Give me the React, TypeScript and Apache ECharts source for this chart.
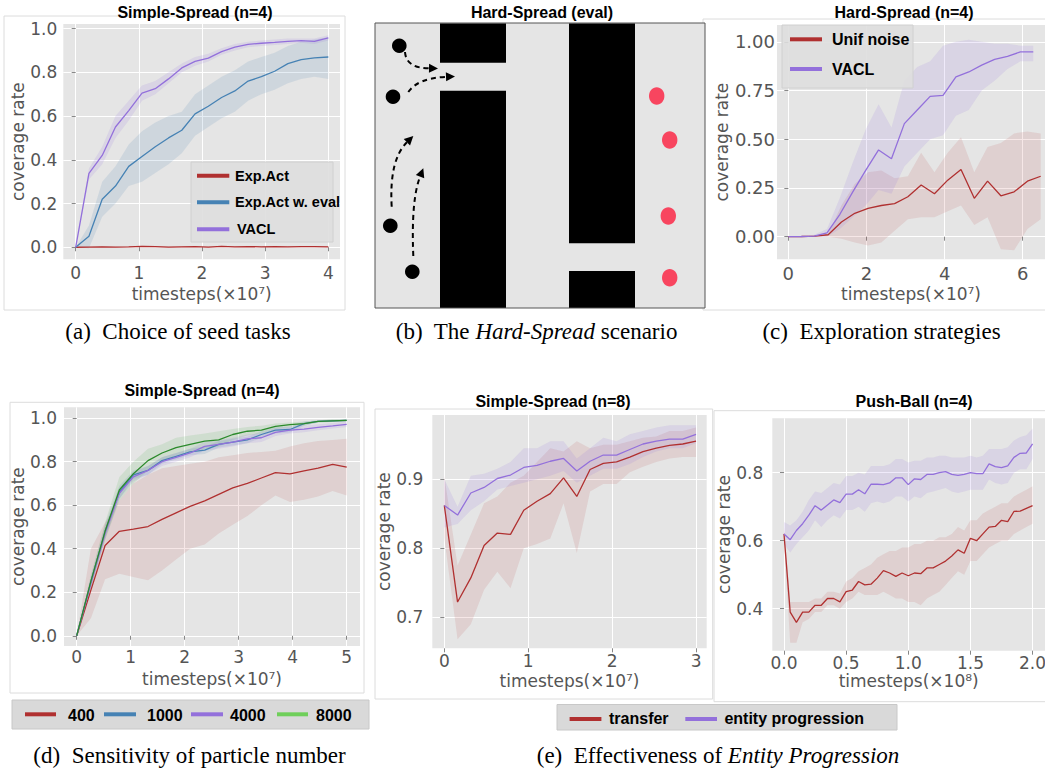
import React, { useEffect, useRef } from "react";
import * as echarts from "echarts";

// ---------------- (a) Simple-Spread (n=4): choice of seed tasks ----------------
const aX = [0, 0.21, 0.42, 0.63, 0.84, 1.05, 1.26, 1.47, 1.68, 1.89, 2.1, 2.31, 2.52, 2.73, 2.94, 3.15, 3.36, 3.57, 3.78, 4.0];
const aExpAct = [0, 0.001, 0.002, 0.001, 0.002, 0.004, 0.003, 0.001, 0.002, 0.003, 0.001, 0.004, 0.002, 0.003, 0.002, 0.003, 0.002, 0.003, 0.003, 0.002];
const aExpActLo = [0, -0.002, -0.001, -0.002, -0.001, 0.001, 0, -0.002, -0.001, 0, -0.002, 0.001, -0.001, 0, -0.001, 0, -0.001, 0, 0, -0.001];
const aExpActHi = [0, 0.004, 0.005, 0.004, 0.005, 0.007, 0.006, 0.004, 0.005, 0.006, 0.004, 0.007, 0.005, 0.006, 0.005, 0.006, 0.005, 0.006, 0.006, 0.005];
const aEval = [0, 0.05, 0.22, 0.28, 0.37, 0.415, 0.46, 0.5, 0.535, 0.61, 0.645, 0.685, 0.715, 0.76, 0.78, 0.805, 0.84, 0.858, 0.866, 0.87];
const aEvalLo = [0, -0.005, 0.14, 0.2, 0.28, 0.3, 0.34, 0.38, 0.43, 0.51, 0.55, 0.59, 0.62, 0.67, 0.7, 0.72, 0.75, 0.77, 0.78, 0.77];
const aEvalHi = [0, 0.1, 0.3, 0.37, 0.47, 0.53, 0.57, 0.6, 0.62, 0.7, 0.74, 0.78, 0.81, 0.85, 0.87, 0.89, 0.92, 0.94, 0.95, 0.96];
const aVacl = [0, 0.338, 0.42, 0.55, 0.625, 0.705, 0.725, 0.77, 0.82, 0.85, 0.865, 0.895, 0.915, 0.928, 0.933, 0.937, 0.942, 0.945, 0.942, 0.958];
const aVaclLo = [0, 0.31, 0.38, 0.5, 0.58, 0.67, 0.7, 0.75, 0.8, 0.83, 0.85, 0.88, 0.9, 0.915, 0.92, 0.925, 0.93, 0.935, 0.93, 0.945];
const aVaclHi = [0, 0.36, 0.46, 0.6, 0.67, 0.74, 0.76, 0.8, 0.84, 0.87, 0.885, 0.91, 0.93, 0.94, 0.945, 0.95, 0.955, 0.955, 0.955, 0.97];
const aXTicks = [0, 1, 2, 3, 4];
const aYTicks = [0, 0.2, 0.4, 0.6, 0.8, 1.0];

// ---------------- (c) Hard-Spread (n=4): exploration strategies ----------------
const cXVacl = [0, 0.33, 0.66, 0.99, 1.32, 1.65, 1.98, 2.31, 2.64, 2.97, 3.3, 3.63, 3.96, 4.29, 4.62, 4.95, 5.28, 5.61, 5.94, 6.27];
const cVacl = [0, 0.001, 0.003, 0.02, 0.115, 0.23, 0.34, 0.445, 0.4, 0.58, 0.65, 0.72, 0.725, 0.82, 0.845, 0.88, 0.91, 0.925, 0.948, 0.948];
const cVaclLo = [0, 0, 0, 0, 0.04, 0.1, 0.16, 0.24, 0.22, 0.36, 0.43, 0.5, 0.52, 0.62, 0.65, 0.75, 0.8, 0.86, 0.9, 0.9];
const cVaclHi = [0, 0.002, 0.01, 0.04, 0.2, 0.38, 0.55, 0.68, 0.56, 0.8, 0.87, 0.9, 0.98, 1.0, 1.01, 1.0, 0.99, 0.99, 0.98, 0.98];
const cXUnif = [0, 0.34, 0.68, 1.02, 1.36, 1.7, 2.04, 2.38, 2.72, 3.06, 3.4, 3.74, 4.08, 4.42, 4.76, 5.1, 5.44, 5.78, 6.12, 6.46];
const cUnif = [0, 0.001, 0.003, 0.01, 0.075, 0.12, 0.145, 0.16, 0.17, 0.205, 0.265, 0.22, 0.29, 0.345, 0.197, 0.285, 0.21, 0.23, 0.285, 0.31];
const cUnifLo = [0, 0, 0, 0, -0.01, -0.03, -0.045, -0.03, 0.03, 0.09, 0.1, 0.1, 0.13, 0.16, 0.06, 0.1, -0.065, -0.07, 0.04, 0.09];
const cUnifHi = [0, 0.002, 0.005, 0.015, 0.16, 0.27, 0.33, 0.34, 0.3, 0.31, 0.43, 0.33, 0.43, 0.51, 0.33, 0.46, 0.48, 0.53, 0.54, 0.53];
const cXTicks = [0, 2, 4, 6];
const cYTicks = [0, 0.25, 0.5, 0.75, 1.0];

// ---------------- (d) Simple-Spread (n=4): particle number ----------------
const dX = [0, 0.263, 0.526, 0.79, 1.05, 1.32, 1.58, 1.84, 2.1, 2.37, 2.63, 2.89, 3.16, 3.42, 3.68, 3.95, 4.21, 4.47, 4.74, 5.0];
const d400 = [0, 0.21, 0.415, 0.48, 0.49, 0.502, 0.535, 0.565, 0.595, 0.62, 0.65, 0.68, 0.7, 0.725, 0.75, 0.744, 0.758, 0.77, 0.788, 0.775];
const d400Lo = [0, 0.08, 0.26, 0.285, 0.27, 0.255, 0.3, 0.35, 0.4, 0.42, 0.47, 0.51, 0.55, 0.6, 0.645, 0.615, 0.625, 0.64, 0.665, 0.645];
const d400Hi = [0, 0.4, 0.52, 0.62, 0.7, 0.74, 0.77, 0.78, 0.79, 0.8, 0.82, 0.83, 0.84, 0.845, 0.85, 0.87, 0.885, 0.895, 0.9, 0.905];
const d1000 = [0, 0.25, 0.48, 0.66, 0.74, 0.76, 0.805, 0.825, 0.845, 0.853, 0.88, 0.89, 0.9, 0.925, 0.945, 0.948, 0.975, 0.985, 0.988, 0.99];
const d1000Lo = [0, 0.23, 0.45, 0.63, 0.72, 0.74, 0.79, 0.81, 0.83, 0.835, 0.865, 0.875, 0.885, 0.91, 0.93, 0.934, 0.965, 0.98, 0.983, 0.985];
const d1000Hi = [0, 0.27, 0.51, 0.69, 0.76, 0.78, 0.82, 0.84, 0.86, 0.87, 0.895, 0.905, 0.915, 0.94, 0.96, 0.962, 0.985, 0.99, 0.993, 0.995];
const d4000 = [0, 0.24, 0.47, 0.655, 0.73, 0.76, 0.8, 0.82, 0.84, 0.87, 0.88, 0.89, 0.905, 0.91, 0.935, 0.945, 0.95, 0.958, 0.965, 0.972];
const d4000Lo = [0, 0.22, 0.44, 0.63, 0.71, 0.74, 0.78, 0.8, 0.82, 0.85, 0.86, 0.87, 0.885, 0.89, 0.918, 0.93, 0.935, 0.944, 0.952, 0.959];
const d4000Hi = [0, 0.26, 0.5, 0.68, 0.75, 0.78, 0.82, 0.84, 0.86, 0.89, 0.9, 0.91, 0.925, 0.93, 0.952, 0.96, 0.965, 0.972, 0.978, 0.985];
const d8000 = [0, 0.25, 0.48, 0.67, 0.745, 0.805, 0.84, 0.865, 0.88, 0.895, 0.9, 0.925, 0.94, 0.945, 0.962, 0.97, 0.975, 0.985, 0.988, 0.99];
const d8000Lo = [0, 0.22, 0.44, 0.62, 0.7, 0.76, 0.8, 0.83, 0.845, 0.86, 0.87, 0.9, 0.92, 0.93, 0.95, 0.96, 0.965, 0.98, 0.982, 0.985];
const d8000Hi = [0, 0.28, 0.52, 0.73, 0.8, 0.86, 0.88, 0.91, 0.92, 0.93, 0.94, 0.95, 0.96, 0.965, 0.975, 0.98, 0.985, 0.99, 0.995, 0.995];
const dXTicks = [0, 1, 2, 3, 4, 5];
const dYTicks = [0, 0.2, 0.4, 0.6, 0.8, 1.0];

// ---------------- (e) left: Simple-Spread (n=8) ----------------
const eX = [0, 0.158, 0.316, 0.474, 0.632, 0.789, 0.947, 1.105, 1.263, 1.421, 1.579, 1.737, 1.895, 2.053, 2.211, 2.368, 2.526, 2.684, 2.842, 3.0];
const eTransfer = [0.862, 0.722, 0.757, 0.804, 0.822, 0.82, 0.855, 0.868, 0.879, 0.902, 0.875, 0.914, 0.923, 0.925, 0.932, 0.94, 0.945, 0.949, 0.951, 0.955];
const eTransferLo = [0.815, 0.668, 0.69, 0.74, 0.766, 0.742, 0.8, 0.806, 0.814, 0.865, 0.793, 0.882, 0.893, 0.893, 0.91, 0.918, 0.925, 0.93, 0.932, 0.932];
const eTransferHi = [0.905, 0.775, 0.82, 0.865, 0.875, 0.895, 0.905, 0.925, 0.945, 0.94, 0.955, 0.945, 0.95, 0.95, 0.955, 0.96, 0.962, 0.97, 0.97, 0.975];
const eEntity = [0.862, 0.848, 0.88, 0.888, 0.901, 0.906, 0.917, 0.92, 0.926, 0.93, 0.912, 0.926, 0.935, 0.935, 0.943, 0.951, 0.955, 0.958, 0.958, 0.965];
const eEntityLo = [0.83, 0.835, 0.855, 0.868, 0.885, 0.89, 0.895, 0.9, 0.905, 0.912, 0.895, 0.905, 0.915, 0.915, 0.922, 0.932, 0.94, 0.945, 0.945, 0.952];
const eEntityHi = [0.9, 0.86, 0.905, 0.908, 0.915, 0.925, 0.945, 0.945, 0.955, 0.955, 0.93, 0.945, 0.96, 0.955, 0.965, 0.97, 0.975, 0.978, 0.978, 0.978];
const eXTicks = [0, 1, 2, 3];
const eYTicks = [0.7, 0.8, 0.9];

// ---------------- (e) right: Push-Ball (n=4) ----------------
const pX = [0, 0.05, 0.1, 0.15, 0.2, 0.25, 0.3, 0.35, 0.4, 0.45, 0.5, 0.55, 0.6, 0.65, 0.7, 0.75, 0.8, 0.85, 0.9, 0.95, 1.0, 1.05, 1.1, 1.15, 1.2, 1.25, 1.3, 1.35, 1.4, 1.45, 1.5, 1.55, 1.6, 1.65, 1.7, 1.75, 1.8, 1.85, 1.9, 1.95, 2.0];
const pTransfer = [0.62, 0.39, 0.36, 0.39, 0.39, 0.41, 0.41, 0.43, 0.43, 0.42, 0.45, 0.455, 0.48, 0.47, 0.472, 0.49, 0.512, 0.505, 0.495, 0.505, 0.497, 0.505, 0.503, 0.52, 0.52, 0.53, 0.54, 0.555, 0.573, 0.563, 0.607, 0.6, 0.62, 0.64, 0.642, 0.66, 0.656, 0.686, 0.687, 0.695, 0.703];
const pTransferLo = [0.6, 0.3, 0.3, 0.36, 0.37, 0.39, 0.39, 0.41, 0.41, 0.4, 0.42, 0.43, 0.45, 0.44, 0.44, 0.44, 0.45, 0.44, 0.43, 0.43, 0.42, 0.42, 0.41, 0.43, 0.44, 0.45, 0.47, 0.49, 0.51, 0.5, 0.54, 0.54, 0.56, 0.58, 0.59, 0.6, 0.6, 0.62, 0.63, 0.64, 0.65];
const pTransferHi = [0.64, 0.42, 0.42, 0.42, 0.42, 0.43, 0.43, 0.45, 0.45, 0.445, 0.48, 0.49, 0.51, 0.52, 0.53, 0.55, 0.56, 0.57, 0.57, 0.58, 0.58, 0.59, 0.59, 0.6, 0.6, 0.61, 0.61, 0.62, 0.64, 0.63, 0.66, 0.66, 0.68, 0.69, 0.7, 0.71, 0.71, 0.73, 0.74, 0.75, 0.76];
const pEntity = [0.62, 0.603, 0.63, 0.65, 0.675, 0.703, 0.69, 0.705, 0.72, 0.712, 0.737, 0.737, 0.75, 0.738, 0.766, 0.766, 0.765, 0.77, 0.785, 0.785, 0.765, 0.782, 0.78, 0.795, 0.795, 0.8, 0.803, 0.795, 0.792, 0.795, 0.8, 0.797, 0.797, 0.826, 0.818, 0.815, 0.82, 0.845, 0.857, 0.858, 0.885];
const pEntityLo = [0.59, 0.565, 0.59, 0.61, 0.63, 0.66, 0.64, 0.66, 0.675, 0.665, 0.69, 0.69, 0.7, 0.685, 0.71, 0.715, 0.71, 0.715, 0.73, 0.73, 0.715, 0.73, 0.725, 0.74, 0.745, 0.75, 0.755, 0.745, 0.74, 0.745, 0.75, 0.75, 0.75, 0.78, 0.77, 0.765, 0.77, 0.8, 0.81, 0.81, 0.84];
const pEntityHi = [0.655, 0.645, 0.66, 0.685, 0.72, 0.745, 0.74, 0.755, 0.77, 0.765, 0.79, 0.79, 0.8, 0.795, 0.82, 0.82, 0.82, 0.825, 0.84, 0.84, 0.83, 0.835, 0.835, 0.845, 0.845, 0.85, 0.85, 0.845, 0.845, 0.845, 0.85, 0.845, 0.85, 0.87, 0.87, 0.87, 0.875, 0.895, 0.905, 0.91, 0.93];
const pXTicks = [0, 0.5, 1.0, 1.5, 2.0];
const pYTicks = [0.4, 0.6, 0.8];

// ---------------- texts ----------------
const titles = ["Simple-Spread (n=4)", "Hard-Spread (eval)", "Hard-Spread (n=4)", "Simple-Spread (n=4)", "Simple-Spread (n=8)", "Push-Ball (n=4)"];
const legendA = ["Exp.Act", "Exp.Act w. eval", "VACL"];
const legendC = ["Unif noise", "VACL"];
const legendD = ["400", "1000", "4000", "8000"];
const legendE = ["transfer", "entity progression"];

const RED = "#b03030";
const BLUE = "#4682b4";
const PURPLE = "#9370db";
const GREEN = "#2b8a2b";
const GREEN_LEG = "#6fcf5a";
const RED_BAND = "rgba(178,60,60,0.12)";
const BLUE_BAND = "rgba(70,130,180,0.14)";
const PURPLE_BAND = "rgba(147,112,219,0.15)";
const GREEN_BAND = "rgba(60,170,60,0.13)";

const TICK_FONT = "DejaVu Sans";
const SANS = "Liberation Sans";
const SERIF = "Liberation Serif";

function lineSeries(gi: number, name: string, xs: number[], ys: number[], color: string) {
  return {
    type: "line", name, xAxisIndex: gi, yAxisIndex: gi,
    data: xs.map((x, i) => [x, ys[i]]),
    showSymbol: false, symbol: "none", silent: true, z: 3,
    lineStyle: { color, width: 1.3 }, itemStyle: { color },
  };
}

function bandSeries(gi: number, xs: number[], lo: number[], hi: number[], fill: string) {
  return {
    type: "custom", coordinateSystem: "cartesian2d", xAxisIndex: gi, yAxisIndex: gi,
    data: [[xs[0], lo[0]]], silent: true, z: 2, clip: true,
    renderItem: (_p: any, api: any) => {
      const pts: number[][] = [];
      for (let i = 0; i < xs.length; i++) pts.push(api.coord([xs[i], hi[i]]));
      for (let i = xs.length - 1; i >= 0; i--) pts.push(api.coord([xs[i], lo[i]]));
      return { type: "polygon", shape: { points: pts }, style: { fill } };
    },
  };
}

type AxCfg = {
  min: number; max: number; ticks: number[]; fmt: (v: number) => string;
  name: string; nameGap: number; margin: number; size: number;
};

function axisOf(gi: number, c: AxCfg, vertical: boolean) {
  return {
    type: "value", gridIndex: gi, min: c.min, max: c.max,
    axisLine: { show: false },
    axisTick: { show: true, length: 4, customValues: c.ticks, lineStyle: { color: "#888", width: 1 } },
    axisLabel: { customValues: c.ticks, formatter: c.fmt, color: "#555", fontSize: c.size, fontFamily: TICK_FONT, margin: c.margin },
    splitLine: { show: true, lineStyle: { color: "#ffffff", width: 1 } },
    name: c.name, nameLocation: "middle", nameGap: c.nameGap,
    ...(vertical ? { nameRotate: 90 } : {}),
    nameTextStyle: { color: "#555", fontSize: 17, fontFamily: TICK_FONT },
  };
}

const f0 = (v: number) => String(Math.round(v));
const f1 = (v: number) => v.toFixed(1);
const f2 = (v: number) => v.toFixed(2);

function txt(x: number, y: number, text: string, size: number, opts: any = {}) {
  return {
    type: "text", x, y, z: 100,
    style: {
      text, fill: opts.fill || "#000", fontSize: size, fontFamily: opts.family || SANS,
      fontWeight: opts.weight || "normal", fontStyle: opts.style || "normal",
      align: opts.align || "center", verticalAlign: "middle", rich: opts.rich,
    },
  };
}
function hline(x1: number, x2: number, y: number, color: string, w = 4) {
  return { type: "line", z: 100, shape: { x1, y1: y, x2, y2: y }, style: { stroke: color, lineWidth: w } };
}
function box(x: number, y: number, width: number, height: number, fill: string, stroke: string, z = 99) {
  return { type: "rect", z, shape: { x, y, width, height }, style: { fill, stroke, lineWidth: 1 } };
}
function arrow(sx: number, sy: number, cx: number, cy: number, ex: number, ey: number) {
  const ang = Math.atan2(ey - cy, ex - cx);
  const L = 9, W = 4.5;
  const bx = ex - L * Math.cos(ang), by = ey - L * Math.sin(ang);
  const px = -Math.sin(ang) * W, py = Math.cos(ang) * W;
  return [
    { type: "bezierCurve", z: 10, shape: { x1: sx, y1: sy, cpx1: cx, cpy1: cy, x2: bx, y2: by }, style: { stroke: "#000", lineWidth: 2, lineDash: [5, 4], fill: null } },
    { type: "polygon", z: 10, shape: { points: [[ex, ey], [bx + px, by + py], [bx - px, by - py]] }, style: { fill: "#000" } },
  ];
}

export default function App() {
  const ref = useRef<HTMLDivElement>(null);
  useEffect(() => {
    if (!ref.current) return;
    const chart = echarts.init(ref.current, null, { renderer: "svg" });

    const grids = [
      { left: 63.3, top: 24, width: 276.7, height: 235.3 },
      { left: 777, top: 25, width: 268, height: 234.3 },
      { left: 64, top: 407.3, width: 296, height: 238.7 },
      { left: 432.3, top: 415, width: 274.4, height: 233.3 },
      { left: 772.3, top: 418.3, width: 272.7, height: 232.4 },
    ].map((g) => ({ ...g, show: true, backgroundColor: "#e5e5e5", borderWidth: 0, containLabel: false, outerBoundsMode: "none" }));

    const X7 = "timesteps(×10⁷)";
    const X8 = "timesteps(×10⁸)";
    const xAxes = [
      axisOf(0, { min: -0.196, max: 4.185, ticks: aXTicks, fmt: f0, name: X7, nameGap: 26, margin: 5, size: 17 }, false),
      axisOf(1, { min: -0.29, max: 6.57, ticks: cXTicks, fmt: f0, name: X7, nameGap: 26, margin: 5, size: 18 }, false),
      axisOf(2, { min: -0.235, max: 5.246, ticks: dXTicks, fmt: f0, name: X7, nameGap: 24, margin: 2, size: 17 }, false),
      axisOf(3, { min: -0.143, max: 3.127, ticks: eXTicks, fmt: f0, name: X7, nameGap: 24, margin: 4, size: 17 }, false),
      axisOf(4, { min: -0.094, max: 2.1, ticks: pXTicks, fmt: f1, name: X8, nameGap: 22, margin: 4, size: 17 }, false),
    ];
    const CR = "coverage rate";
    const yAxes = [
      axisOf(0, { min: -0.055, max: 1.021, ticks: aYTicks, fmt: f1, name: CR, nameGap: 34, margin: 6, size: 17 }, true),
      axisOf(1, { min: -0.116, max: 1.086, ticks: cYTicks, fmt: f2, name: CR, nameGap: 47, margin: 2, size: 18 }, true),
      axisOf(2, { min: -0.047, max: 1.05, ticks: dYTicks, fmt: f1, name: CR, nameGap: 33, margin: 7, size: 17 }, true),
      axisOf(3, { min: 0.655, max: 0.993, ticks: eYTicks, fmt: f1, name: CR, nameGap: 35, margin: 9, size: 17 }, true),
      axisOf(4, { min: 0.2765, max: 0.96, ticks: pYTicks, fmt: f1, name: CR, nameGap: 35, margin: 9, size: 17 }, true),
    ];

    const series: any[] = [
      bandSeries(0, aX, aExpActLo, aExpActHi, RED_BAND),
      bandSeries(0, aX, aEvalLo, aEvalHi, BLUE_BAND),
      bandSeries(0, aX, aVaclLo, aVaclHi, PURPLE_BAND),
      lineSeries(0, legendA[0], aX, aExpAct, RED),
      lineSeries(0, legendA[1], aX, aEval, BLUE),
      lineSeries(0, legendA[2], aX, aVacl, PURPLE),

      bandSeries(1, cXUnif, cUnifLo, cUnifHi, RED_BAND),
      bandSeries(1, cXVacl, cVaclLo, cVaclHi, PURPLE_BAND),
      lineSeries(1, legendC[0], cXUnif, cUnif, RED),
      lineSeries(1, legendC[1], cXVacl, cVacl, PURPLE),

      bandSeries(2, dX, d400Lo, d400Hi, RED_BAND),
      bandSeries(2, dX, d1000Lo, d1000Hi, BLUE_BAND),
      bandSeries(2, dX, d4000Lo, d4000Hi, PURPLE_BAND),
      bandSeries(2, dX, d8000Lo, d8000Hi, GREEN_BAND),
      lineSeries(2, legendD[0], dX, d400, RED),
      lineSeries(2, legendD[1], dX, d1000, BLUE),
      lineSeries(2, legendD[2], dX, d4000, PURPLE),
      lineSeries(2, legendD[3], dX, d8000, GREEN),

      bandSeries(3, eX, eTransferLo, eTransferHi, RED_BAND),
      bandSeries(3, eX, eEntityLo, eEntityHi, PURPLE_BAND),
      lineSeries(3, legendE[0], eX, eTransfer, RED),
      lineSeries(3, legendE[1], eX, eEntity, PURPLE),

      bandSeries(4, pX, pTransferLo, pTransferHi, RED_BAND),
      bandSeries(4, pX, pEntityLo, pEntityHi, PURPLE_BAND),
      lineSeries(4, legendE[0], pX, pTransfer, RED),
      lineSeries(4, legendE[1], pX, pEntity, PURPLE),
    ];

    const FRAME = "#dcdcdc";
    const ital = { i: { fontStyle: "italic", fontFamily: SERIF, fontSize: 23, fill: "#000" } };
    const graphics: any[] = [
      // panel frames
      box(4, 16, 341, 294, "none", FRAME, -10),
      box(703, 19, 350, 291, "none", FRAME, -10),
      box(10, 402.3, 354, 290.7, "none", FRAME, -10),
      box(375, 409, 337.7, 290, "none", FRAME, -10),
      box(714, 410.7, 340, 291, "none", FRAME, -10),

      // titles
      txt(195, 12, titles[0], 16, { weight: "bold" }),
      txt(542, 12, titles[1], 16, { weight: "bold" }),
      txt(904, 12, titles[2], 16, { weight: "bold" }),
      txt(202, 390, titles[3], 16, { weight: "bold" }),
      txt(553, 401, titles[4], 16, { weight: "bold" }),
      txt(914, 401, titles[5], 16, { weight: "bold" }),

      // (b) scenario drawing
      { type: "rect", z: 5, shape: { x: 375, y: 23, width: 330, height: 285 }, style: { fill: "#e5e5e5", stroke: "#555", lineWidth: 1 } },
      { type: "rect", z: 6, shape: { x: 440, y: 23.5, width: 66, height: 39.2 }, style: { fill: "#000" } },
      { type: "rect", z: 6, shape: { x: 440, y: 90.7, width: 66, height: 217 }, style: { fill: "#000" } },
      { type: "rect", z: 6, shape: { x: 569, y: 23.5, width: 66, height: 219.8 }, style: { fill: "#000" } },
      { type: "rect", z: 6, shape: { x: 569, y: 271, width: 66, height: 36.7 }, style: { fill: "#000" } },
      { type: "circle", z: 7, shape: { cx: 399.3, cy: 45.7, r: 7.3 }, style: { fill: "#000" } },
      { type: "circle", z: 7, shape: { cx: 393, cy: 96.7, r: 7.3 }, style: { fill: "#000" } },
      { type: "circle", z: 7, shape: { cx: 390.3, cy: 225.7, r: 7.3 }, style: { fill: "#000" } },
      { type: "circle", z: 7, shape: { cx: 412.3, cy: 271.7, r: 7.3 }, style: { fill: "#000" } },
      { type: "ellipse", z: 7, shape: { cx: 656.7, cy: 96, rx: 7.7, ry: 8.7 }, style: { fill: "#f8455f" } },
      { type: "ellipse", z: 7, shape: { cx: 669.7, cy: 140, rx: 7.7, ry: 8.7 }, style: { fill: "#f8455f" } },
      { type: "ellipse", z: 7, shape: { cx: 668.3, cy: 216, rx: 7.7, ry: 8.7 }, style: { fill: "#f8455f" } },
      { type: "ellipse", z: 7, shape: { cx: 669.7, cy: 277.7, rx: 7.7, ry: 8.7 }, style: { fill: "#f8455f" } },
      ...arrow(405, 52, 406, 68, 438, 68.5),
      ...arrow(408.3, 92, 418, 78, 455, 76.5),
      ...arrow(391.7, 206.7, 389, 160, 413.3, 136),
      ...arrow(413.3, 256, 411, 200, 423.3, 168.3),

      // legend (a)
      box(191, 162, 142, 80, "rgba(222,222,222,0.9)", "#d0d0d0"),
      hline(197, 229.3, 175.7, RED),
      hline(197, 229.3, 202.3, BLUE),
      hline(197, 229.3, 229.3, PURPLE),
      txt(235, 175.7, legendA[0], 14.5, { weight: "bold", align: "left" }),
      txt(235, 202.3, legendA[1], 14.5, { weight: "bold", align: "left" }),
      txt(237, 229.3, legendA[2], 14.5, { weight: "bold", align: "left" }),

      // legend (c)
      box(782, 25, 131, 63, "rgba(222,222,222,0.9)", "#d0d0d0"),
      hline(790, 822, 39.3, RED),
      hline(790, 822, 69, PURPLE),
      txt(832, 39.3, legendC[0], 16, { weight: "bold", align: "left" }),
      txt(832, 69, legendC[1], 16, { weight: "bold", align: "left" }),

      // legend (d)
      box(12, 700, 357, 29, "#d9d9d9", "#c8c8c8"),
      hline(25, 56, 714.3, RED),
      hline(104, 136, 714.3, BLUE),
      hline(191, 223, 714.3, PURPLE),
      hline(277, 308, 714.3, GREEN_LEG),
      txt(68, 715, legendD[0], 16, { weight: "bold", align: "left" }),
      txt(147, 715, legendD[1], 16, { weight: "bold", align: "left" }),
      txt(230, 715, legendD[2], 16, { weight: "bold", align: "left" }),
      txt(316, 715, legendD[3], 16, { weight: "bold", align: "left" }),

      // legend (e)
      box(557, 704.5, 340, 25.5, "#d9d9d9", "#c8c8c8"),
      hline(569.6, 601.4, 719, RED),
      hline(685.3, 717, 719, PURPLE),
      txt(609, 718, legendE[0], 16, { weight: "bold", align: "left" }),
      txt(724.4, 718, legendE[1], 16, { weight: "bold", align: "left" }),

      // captions
      txt(178, 331, "(a)  Choice of seed tasks", 23, { family: SERIF }),
      txt(536.5, 331, "(b)  The {i|Hard-Spread} scenario", 23, { family: SERIF, rich: ital }),
      txt(881.5, 331, "(c)  Exploration strategies", 23, { family: SERIF }),
      txt(189.5, 755, "(d)  Sensitivity of particle number", 23, { family: SERIF }),
      txt(718, 755, "(e)  Effectiveness of {i|Entity Progression}", 23, { family: SERIF, rich: ital }),
    ];

    chart.setOption({
      animation: false,
      backgroundColor: "#ffffff",
      tooltip: { show: false },
      grid: grids,
      xAxis: xAxes,
      yAxis: yAxes,
      series,
      graphic: { elements: graphics },
    });
    return () => chart.dispose();
  }, []);
  return <div ref={ref} style={{ position: "absolute", left: 0, top: 0, width: 1045, height: 773 }} />;
}
